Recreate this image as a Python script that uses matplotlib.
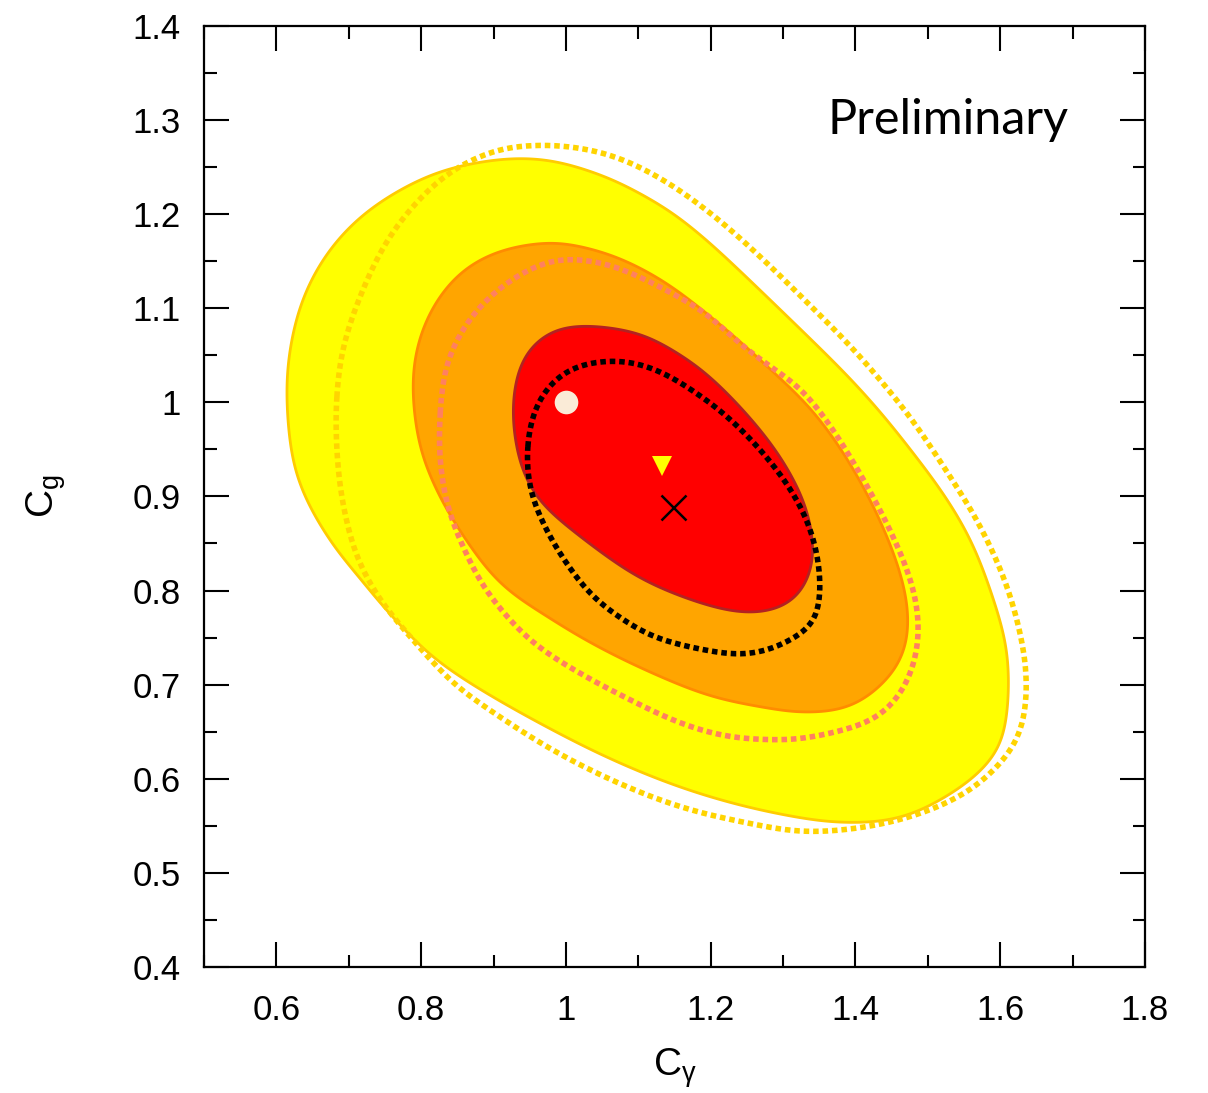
import numpy as np
import matplotlib
matplotlib.use("Agg")
import matplotlib.pyplot as plt
from matplotlib.ticker import MultipleLocator, FuncFormatter

# ---- contour boundaries (C_gamma, C_g) ----
yellow_x = [0.614, 0.619, 0.637, 0.670, 0.715, 0.770, 0.830, 0.899, 0.946, 0.991, 1.056, 1.101,
            1.147, 1.194, 1.239, 1.285, 1.340, 1.387, 1.432, 1.478, 1.525, 1.561, 1.588, 1.608,
            1.612, 1.609, 1.598, 1.554, 1.482, 1.432, 1.387, 1.340, 1.249, 1.157, 1.064, 0.973,
            0.881, 0.816, 0.770, 0.743, 0.706, 0.683, 0.646, 0.623]
yellow_y = [1.006, 1.059, 1.112, 1.159, 1.197, 1.226, 1.247, 1.258, 1.260, 1.256, 1.240, 1.223,
            1.202, 1.173, 1.141, 1.107, 1.066, 1.030, 0.992, 0.948, 0.899, 0.851, 0.797, 0.744,
            0.702, 0.665, 0.630, 0.595, 0.563, 0.554, 0.553, 0.556, 0.570, 0.591, 0.620, 0.655,
            0.695, 0.729, 0.764, 0.787, 0.822, 0.843, 0.889, 0.936]

orange_x = [0.788, 0.794, 0.816, 0.853, 0.899, 0.946, 0.991, 1.009, 1.056, 1.101, 1.147, 1.194,
            1.239, 1.294, 1.340, 1.387, 1.432, 1.464, 1.474, 1.464, 1.432, 1.387, 1.318, 1.294,
            1.202, 1.111, 1.035, 0.977, 0.908, 0.853, 0.821, 0.798]
orange_y = [1.013, 1.059, 1.102, 1.138, 1.159, 1.168, 1.171, 1.168, 1.159, 1.144, 1.123, 1.095,
            1.066, 1.027, 0.992, 0.942, 0.878, 0.814, 0.765, 0.726, 0.696, 0.674, 0.670, 0.673,
            0.687, 0.715, 0.744, 0.771, 0.808, 0.864, 0.907, 0.953]

red_x = [0.926, 0.940, 0.973, 0.991, 1.032, 1.101, 1.147, 1.194, 1.253, 1.299, 1.332, 1.343,
         1.340, 1.322, 1.290, 1.243, 1.184, 1.115, 1.064, 0.991, 0.959, 0.936]
red_y = [0.995, 1.048, 1.074, 1.080, 1.082, 1.074, 1.056, 1.031, 0.985, 0.939, 0.889, 0.843,
         0.822, 0.793, 0.779, 0.776, 0.787, 0.808, 0.832, 0.875, 0.899, 0.936]

gold_dot_x = [0.683, 0.692, 0.715, 0.747, 0.784, 0.830, 0.877, 0.922, 0.981, 1.009, 1.056, 1.101,
              1.147, 1.194, 1.239, 1.285, 1.322, 1.387, 1.432, 1.478, 1.525, 1.570, 1.608, 1.630,
              1.637, 1.632, 1.614, 1.554, 1.457, 1.340, 1.249, 1.157, 1.064, 0.973, 0.881, 0.839,
              0.780, 0.743, 0.719, 0.706, 0.690, 0.683]
gold_dot_y = [1.006, 1.059, 1.112, 1.165, 1.205, 1.240, 1.261, 1.272, 1.274, 1.272, 1.265, 1.251,
              1.231, 1.205, 1.176, 1.143, 1.115, 1.065, 1.026, 0.982, 0.928, 0.872, 0.808, 0.747,
              0.702, 0.659, 0.628, 0.585, 0.555, 0.543, 0.553, 0.570, 0.598, 0.634, 0.680, 0.705,
              0.755, 0.790, 0.822, 0.846, 0.899, 0.953]

salmon_dot_x = [0.826, 0.835, 0.863, 0.899, 0.946, 0.991, 1.009, 1.056, 1.101, 1.147, 1.194, 1.239,
                1.290, 1.322, 1.363, 1.409, 1.450, 1.478, 1.488, 1.483, 1.464, 1.432, 1.387, 1.318,
                1.294, 1.226, 1.157, 1.088, 1.019, 0.950, 0.894, 0.871, 0.839, 0.826]
salmon_dot_y = [0.989, 1.042, 1.085, 1.116, 1.141, 1.154, 1.153, 1.148, 1.134, 1.116, 1.095, 1.063,
                1.034, 1.017, 0.978, 0.921, 0.861, 0.808, 0.765, 0.726, 0.691, 0.665, 0.652, 0.641,
                0.641, 0.644, 0.659, 0.684, 0.712, 0.747, 0.795, 0.825, 0.882, 0.936]

black_dot_x = [0.946, 0.959, 0.987, 1.009, 1.056, 1.101, 1.147, 1.174, 1.208, 1.253, 1.299, 1.332,
               1.347, 1.352, 1.346, 1.318, 1.294, 1.249, 1.202, 1.133, 1.101, 1.037, 0.991, 0.968,
               0.950]
black_dot_y = [0.953, 0.999, 1.027, 1.038, 1.045, 1.042, 1.027, 1.013, 0.995, 0.963, 0.921, 0.878,
               0.840, 0.808, 0.765, 0.751, 0.740, 0.731, 0.735, 0.747, 0.758, 0.793, 0.840, 0.872,
               0.907]

# ---- points ----
sm_point = (1.0, 1.0)
tri_point = (1.133, 0.932)
best_fit = (1.148, 0.889)

x_ticks = [0.6, 0.8, 1.0, 1.2, 1.4, 1.6, 1.8]
y_ticks = [0.4, 0.5, 0.6, 0.7, 0.8, 0.9, 1.0, 1.1, 1.2, 1.3, 1.4]

# pixel-per-unit scale of the frame, so the smoothing works in isotropic units
SX, SY = 725.0, 940.0


def smooth_closed(xs, ys, sigma=18.0, n=1200, per_seg=30):
    """Closed curve through the boundary points: periodic Catmull-Rom spline,
    resampled by arc length and lightly Gaussian-smoothed along the curve."""
    p = np.column_stack([np.asarray(xs, float) * SX, np.asarray(ys, float) * SY])
    p0, p1, p2, p3 = np.roll(p, 1, 0), p, np.roll(p, -1, 0), np.roll(p, -2, 0)
    t = np.linspace(0, 1, per_seg, endpoint=False)[:, None, None]
    c = 0.5 * (2 * p1 + (-p0 + p2) * t + (2 * p0 - 5 * p1 + 4 * p2 - p3) * t ** 2
               + (-p0 + 3 * p1 - 3 * p2 + p3) * t ** 3)
    c = c.transpose(1, 0, 2).reshape(-1, 2)
    cc = np.vstack([c, c[:1]])
    s = np.r_[0, np.cumsum(np.hypot(*np.diff(cc, axis=0).T))]
    L = s[-1]
    su = np.linspace(0, L, n, endpoint=False)
    u = np.interp(su, s, cc[:, 0])
    v = np.interp(su, s, cc[:, 1])
    ds = L / n
    k = np.arange(n)
    k = np.minimum(k, n - k) * ds
    g = np.exp(-0.5 * (k / sigma) ** 2)
    g /= g.sum()
    G = np.fft.fft(g)
    u = np.real(np.fft.ifft(np.fft.fft(u) * G))
    v = np.real(np.fft.ifft(np.fft.fft(v) * G))
    u, v = np.r_[u, u[0]], np.r_[v, v[0]]
    return u / SX, v / SY


plt.rcParams['font.family'] = ['Liberation Sans', 'DejaVu Sans']
plt.rcParams['mathtext.fontset'] = 'custom'
plt.rcParams['mathtext.rm'] = 'Liberation Sans'
plt.rcParams['mathtext.it'] = 'Liberation Sans'

fig = plt.figure(figsize=(12.08, 10.93), dpi=100)
ax = fig.add_axes([0.1689, 0.1157, 0.9478 - 0.1689, 0.9758 - 0.1157])

# filled regions
for xs, ys, fc, ec in [(yellow_x, yellow_y, '#FFFF00', '#FFCC00'),
                       (orange_x, orange_y, '#FFA500', '#FF8C00'),
                       (red_x, red_y, '#FF0000', '#B22222')]:
    cx, cy = smooth_closed(xs, ys)
    ax.fill(cx, cy, facecolor=fc, edgecolor=ec, linewidth=2.0, zorder=2)

# dotted contours
for xs, ys, col in [(gold_dot_x, gold_dot_y, '#FFD400'),
                    (salmon_dot_x, salmon_dot_y, '#FF8060'),
                    (black_dot_x, black_dot_y, '#000000')]:
    cx, cy = smooth_closed(xs, ys)
    ax.plot(cx, cy, color=col, linewidth=4.0, dashes=(1.0, 0.7),
            dash_capstyle='butt', zorder=3)

# markers
ax.plot(*sm_point, 'o', color='#FAEBD7', markersize=17, markeredgewidth=0, zorder=5)
ax.plot(*tri_point, 'v', color='#FFFF00', markersize=15, markeredgewidth=0, zorder=5)
ax.plot(*best_fit, 'x', color='black', markersize=18, markeredgewidth=1.8, zorder=5)

ax.text(1.528, 1.3, 'Preliminary', fontsize=35, family=['Lato', 'DejaVu Sans'],
        ha='center', va='center', zorder=6)

ax.set_xlim(0.5, 1.8)
ax.set_ylim(0.4, 1.4)
ax.set_xticks(x_ticks)
ax.set_yticks(y_ticks)
ax.xaxis.set_minor_locator(MultipleLocator(0.1))
ax.yaxis.set_minor_locator(MultipleLocator(0.05))
fmt = FuncFormatter(lambda v, pos: '%g' % round(v, 2))
ax.xaxis.set_major_formatter(fmt)
ax.yaxis.set_major_formatter(fmt)

ax.tick_params(which='both', direction='in', top=True, right=True, width=1.5,
               labelsize=25)
ax.tick_params(which='major', length=18)
ax.tick_params(axis='x', which='major', pad=20)
ax.tick_params(axis='y', which='major', pad=17)
ax.tick_params(which='minor', length=9)
for s in ax.spines.values():
    s.set_linewidth(1.6)

ax.set_xlabel(r'C$_{\gamma}$', fontsize=28, labelpad=14)
ax.set_ylabel(r'C$_{\mathrm{g}}$', fontsize=28, labelpad=46)

fig.savefig('out.png', dpi=100)
